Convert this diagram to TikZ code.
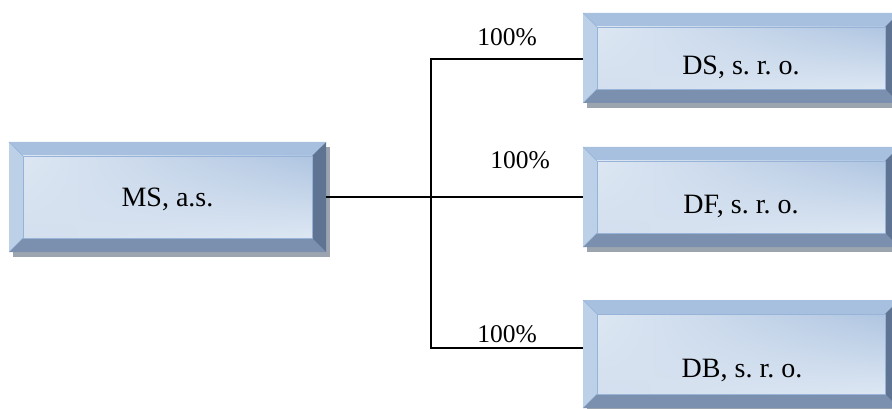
\documentclass[tikz,border=0pt]{standalone}
\usepackage{fontspec}
\setmainfont{Liberation Serif}
\usetikzlibrary{fit,shadings}

\definecolor{bevtop}{HTML}{A8C0DF}
\definecolor{bevleft}{HTML}{BCD0E8}
\definecolor{bevbottom}{HTML}{7B90AE}
\definecolor{bevright}{HTML}{5F7492}
\definecolor{facelight}{HTML}{DDE7F3}
\definecolor{facemid}{HTML}{D3DFEE}
\definecolor{facedark}{HTML}{AFC5E1}
\definecolor{boxshadow}{HTML}{9CA5AF}
\definecolor{bevedge}{HTML}{97B3D7}

% Bevelled box: #1 name, (#2,#3) top-left, (#4,#5) bottom-right
\newcommand\BevelBox[5]{%
  \fill[boxshadow] (#2+4,#3+5) rectangle (#4+4,#5+5);
  \fill[bevtop]    (#2,#3) -- (#4,#3) -- (#4-14,#3+14) -- (#2+14,#3+14) -- cycle;
  \fill[bevleft]   (#2,#3) -- (#2+14,#3+14) -- (#2+14,#5-14) -- (#2,#5) -- cycle;
  \fill[bevbottom] (#2,#5) -- (#2+14,#5-14) -- (#4-14,#5-14) -- (#4,#5) -- cycle;
  \fill[bevright]  (#4,#3) -- (#4-14,#3+14) -- (#4-14,#5-14) -- (#4,#5) -- cycle;
  \shade[upper left=facelight, upper right=facedark,
         lower left=facemid, lower right=facelight]
    (#2+14,#3+14) rectangle (#4-14,#5-14);
  \draw[bevedge, line width=0.8pt] (#2+14,#3+14) rectangle (#4-14,#5-14);
  \draw[bevedge, line width=0.6pt] (#2,#3) -- (#2+14,#3+14) (#2,#5) -- (#2+14,#5-14);
  \node[fit={(#2,#3) (#4,#5)}, inner sep=0pt] (#1) {};
}

\tikzset{
  boxtext/.style={anchor=base, inner sep=0pt, font=\fontsize{28}{32}\selectfont\frenchspacing},
  pct/.style={anchor=base, inner sep=0pt, font=\fontsize{25.5}{29}\selectfont},
  link/.style={draw=black, line width=1.2pt}
}

\begin{document}
\begin{tikzpicture}[x=1pt, y=-1pt]
  \useasboundingbox (0,0) rectangle (892,409);
  \clip (0,0) rectangle (892,409);

  % companies
  \BevelBox{ms}{9}{142}{326}{252}
  \BevelBox{ds}{583}{13}{899}{103}
  \BevelBox{df}{583}{147}{899}{247}
  \BevelBox{db}{583}{300}{899}{408}

  \node[boxtext] (ms-t) at (167.5,206) {MS, a.s.};
  \node[boxtext] (ds-t) at (741,75)    {DS, s. r. o.};
  \node[boxtext] (df-t) at (741,214)   {DF, s. r. o.};
  \node[boxtext] (db-t) at (742,377)   {DB, s. r. o.};

  % ownership lines
  \coordinate (jt) at (431,59);
  \coordinate (jb) at (431,348);
  \draw[link] (ms.east) -- (df.west);
  \draw[link] (jt -| ds.west) -- (jt) -- (jb) -- (jb -| db.west);

  % shares
  \node[pct] (p-ds) at (507,46)  {100\%};
  \node[pct] (p-df) at (520,168) {100\%};
  \node[pct] (p-db) at (507,342) {100\%};
\end{tikzpicture}
\end{document}
